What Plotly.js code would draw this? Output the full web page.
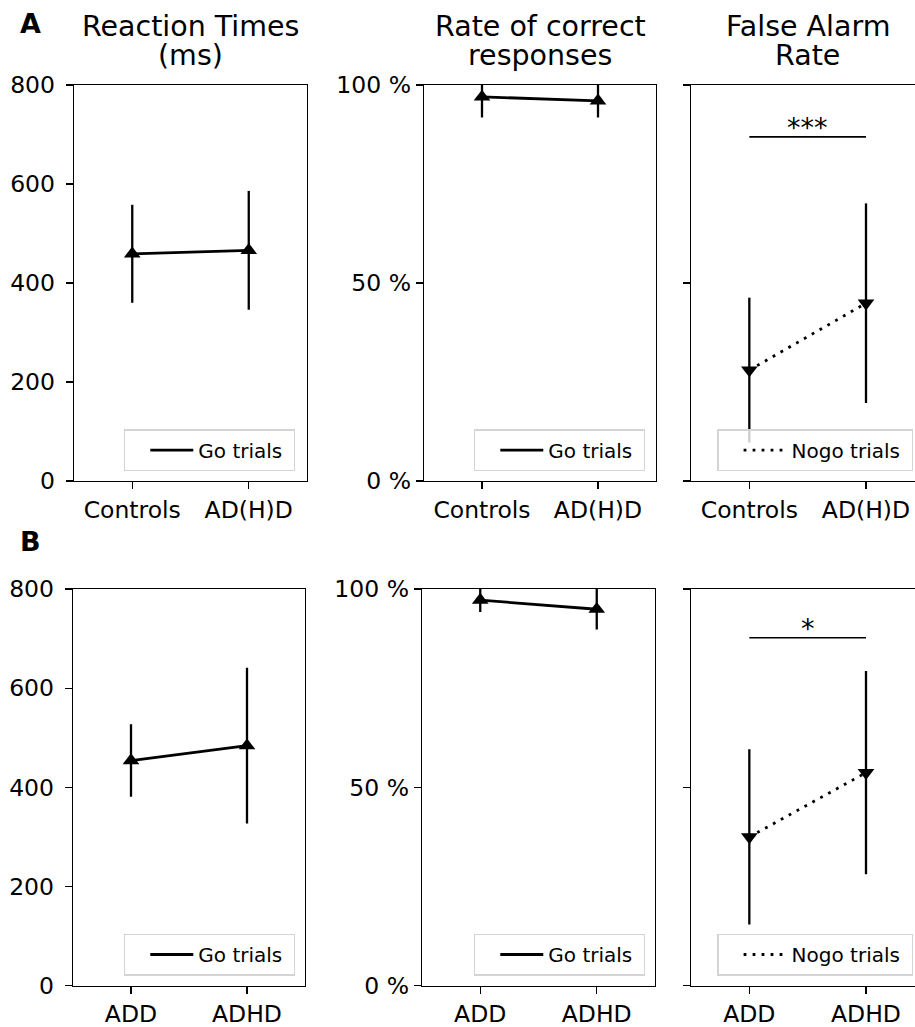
<!DOCTYPE html>
<html><head><meta charset="utf-8">
<script src="https://cdn.plot.ly/plotly-3.0.1.min.js"></script>
<style>html,body{margin:0;padding:0;background:#fff}</style>
</head><body><div id="chart" style="width:915px;height:1027px"></div>
<script>
// ---- data ----
const groupsA = ['Controls', 'AD(H)D'];
const groupsB = ['ADD', 'ADHD'];
const rtA = [459, 466];      const rtAErr = [99, 120];
const rtB = [454, 484];      const rtBErr = [73, 157];
const corrA = [97.0, 96.0];  const corrAErr = [5.2, 4.2];
const corrB = [97.2, 94.9];  const corrBErr = [3.0, 5.1];
const faA = [28.0, 44.9];    const faAErr = [18.3, 25.2];
const faB = [37.5, 53.7];    const faBErr = [22.1, 25.6];
const sigLevel = [86.9, 87.7];
const sigLabel = ['***', '*'];
const rtTicks = [0, 200, 400, 600, 800];
const pctTicks = [0, 50, 100];
const pctLabels = ['0 %', '50 %', '100 %'];
const panelTitles = [['Reaction Times', '(ms)'], ['Rate of correct', 'responses'], ['False Alarm', 'Rate']];
const rowLabels = ['A', 'B'];
const seriesNames = ['Go trials', 'Go trials', 'Nogo trials'];

// ---- layout geometry (pixels) ----
const W = 915, H = 1027;
const FONT = 'DejaVu Sans, Liberation Sans, sans-serif';
const xPix = [[74, 307], [424, 656], [691, 915], [73, 305], [422, 655], [691, 915]];
const yPix = [[85, 481], [589, 985.7]];
const legPix = [[295, 471.3], [645, 471.3], [913.3, 471.3], [295, 975.7], [645, 975.7], [913.3, 975.7]];
const DOT = '2.8px,6.2px';

const panels = [
  {g: groupsA, v: rtA, e: rtAErr},
  {g: groupsA, v: corrA, e: corrAErr},
  {g: groupsA, v: faA, e: faAErr},
  {g: groupsB, v: rtB, e: rtBErr},
  {g: groupsB, v: corrB, e: corrBErr},
  {g: groupsB, v: faB, e: faBErr}
];

const traces = [];
const layout = {
  width: W, height: H,
  margin: {l: 0, r: 0, t: 0, b: 0},
  paper_bgcolor: 'white', plot_bgcolor: 'white',
  showlegend: true,
  font: {family: FONT, color: 'black'},
  annotations: [],
  hovermode: false
};

panels.forEach((P, p) => {
  const r = Math.floor(p / 3), c = p % 3;
  const xa = 'x' + (p + 1), ya = 'y' + (p + 1);
  const legId = p === 0 ? 'legend' : 'legend' + (p + 1);
  const isFA = c === 2;
  traces.push({
    x: P.g, y: P.v, mode: 'lines', xaxis: xa, yaxis: ya,
    name: seriesNames[c] + '\u00a0', legend: legId, showlegend: true,
    line: {color: 'black', width: 2.8, dash: isFA ? DOT : 'solid'}
  });
  traces.push({
    x: P.g, y: P.v, mode: 'markers', xaxis: xa, yaxis: ya, showlegend: false,
    marker: {symbol: isFA ? 'triangle-down' : 'triangle-up', size: 14.5, color: 'black'},
    error_y: {type: 'data', array: P.e, visible: true, color: 'black', thickness: 2.3, width: 0}
  });
  if (isFA) {
    traces.push({
      x: P.g, y: [sigLevel[r], sigLevel[r]], mode: 'lines', xaxis: xa, yaxis: ya, showlegend: false,
      line: {color: 'black', width: 1.6}
    });
    layout.annotations.push({
      xref: xa, yref: ya, x: 0.5, y: sigLevel[r], yanchor: 'bottom', yshift: -8,
      text: sigLabel[r], showarrow: false, font: {family: FONT, size: 27, color: 'black'}
    });
  }
  const xk = p === 0 ? 'xaxis' : 'xaxis' + (p + 1);
  const yk = p === 0 ? 'yaxis' : 'yaxis' + (p + 1);
  layout[xk] = {
    domain: [xPix[p][0] / W, xPix[p][1] / W],
    anchor: ya, type: 'category',
    range: isFA ? [-0.5, 1.42] : [-0.5, 1.5],
    showline: true, linecolor: 'black', linewidth: 1.3, mirror: true,
    ticks: 'outside', ticklen: 7, tickwidth: 1.3, tickcolor: 'black',
    tickfont: {family: FONT, size: 23.5, color: 'black'},
    showgrid: false, zeroline: false, fixedrange: true
  };
  layout[yk] = {
    domain: [1 - yPix[r][1] / H, 1 - yPix[r][0] / H],
    anchor: xa,
    range: c === 0 ? [0, 800] : [0, 100],
    tickvals: c === 0 ? rtTicks : pctTicks,
    ticktext: c === 0 ? rtTicks.map(String) : pctLabels,
    showticklabels: c !== 2,
    ticklabelstandoff: c === 0 ? 6 : 0,
    showline: true, linecolor: 'black', linewidth: 1.3, mirror: c !== 2,
    ticks: 'outside', ticklen: 7, tickwidth: 1.3, tickcolor: 'black',
    tickfont: {family: FONT, size: 23.5, color: 'black'},
    showgrid: false, zeroline: false, fixedrange: true
  };
  layout[legId] = {
    x: legPix[p][0] / W, y: 1 - legPix[p][1] / H, xanchor: 'right', yanchor: 'bottom',
    xref: 'paper', yref: 'paper',
    bgcolor: 'rgba(255,255,255,0.8)', bordercolor: '#d4d4d4', borderwidth: 1.3,
    font: {family: FONT, size: 20, color: 'black'}, itemwidth: 43, indentation: 20
  };
});

// panel titles
for (let c = 0; c < 3; c++) {
  const cx = (xPix[c][0] + (c === 2 ? 924 : xPix[c][1])) / 2;
  panelTitles[c].forEach((t, i) => {
    layout.annotations.push({
      xref: 'paper', yref: 'paper', x: cx / W, y: 1 - (26 + i * 29.5) / H,
      xanchor: 'center', yanchor: 'middle', text: t, showarrow: false,
      font: {family: FONT, size: 28.5, color: 'black'}
    });
  });
}
// row labels
const rowLabY = [23.5, 541.5];
rowLabels.forEach((t, i) => {
  layout.annotations.push({
    xref: 'paper', yref: 'paper', x: 30.4 / W, y: 1 - rowLabY[i] / H,
    xanchor: 'center', yanchor: 'middle', text: '<b>' + t + '</b>', showarrow: false,
    font: {family: FONT, size: 27, color: 'black'}
  });
});

Plotly.newPlot('chart', traces, layout, {staticPlot: true, displayModeBar: false});
</script></body></html>
